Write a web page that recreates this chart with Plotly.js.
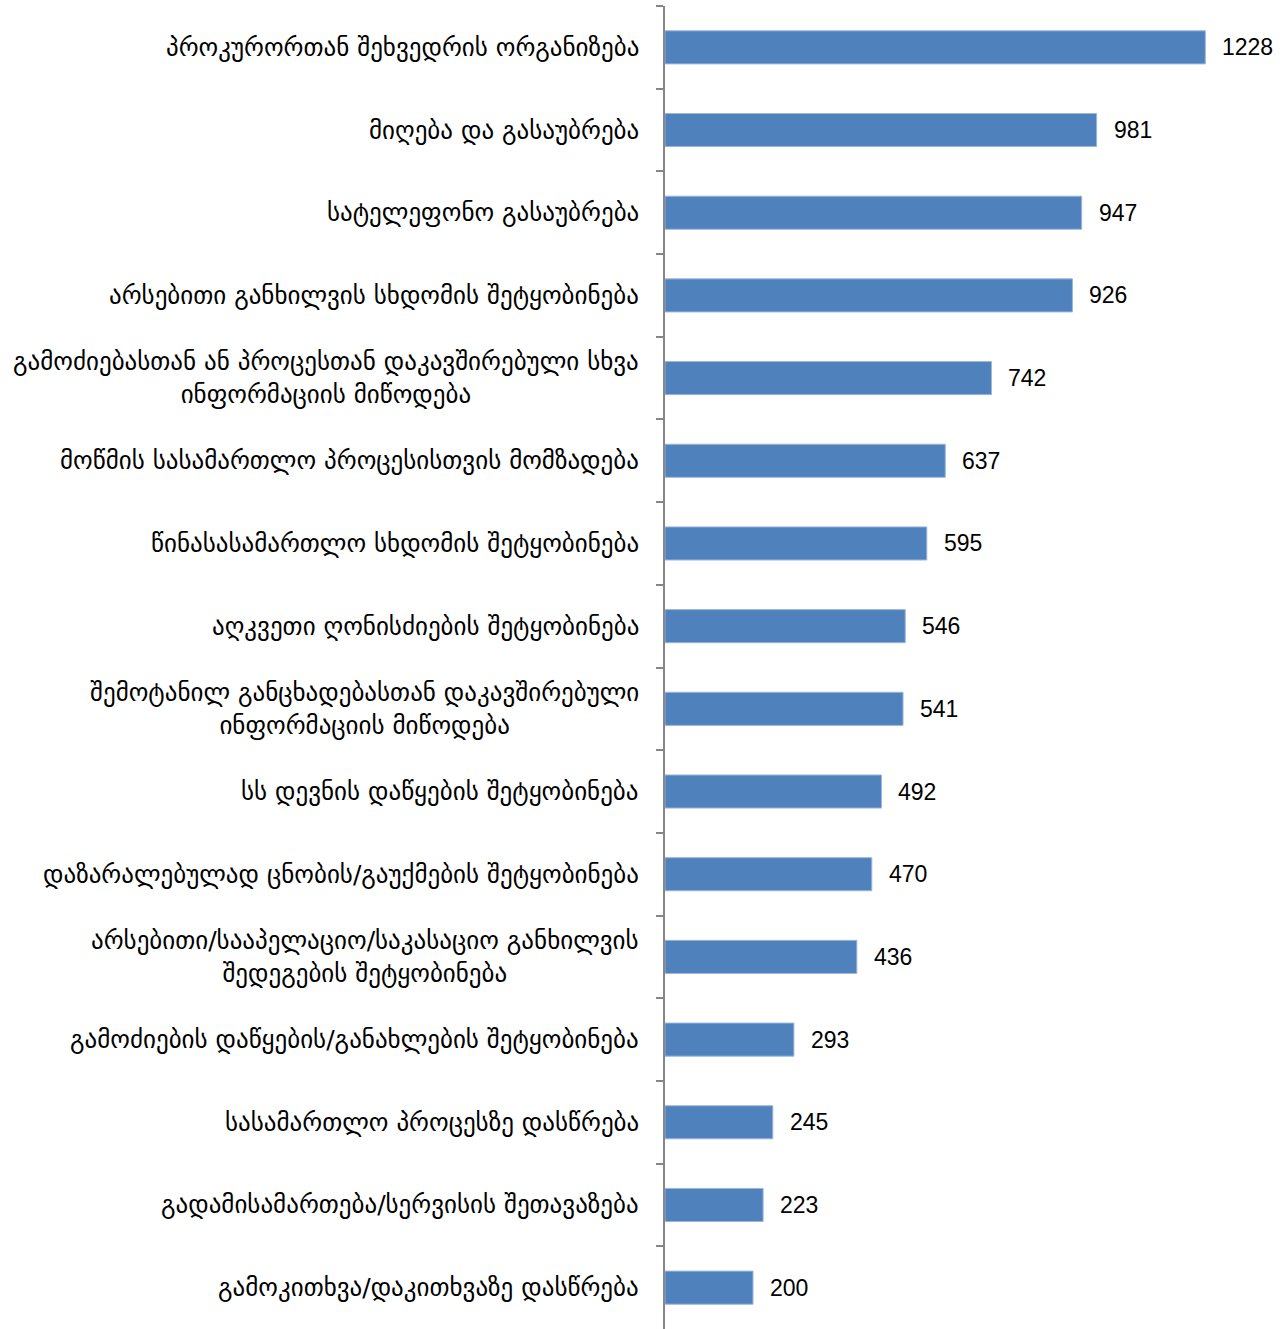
<!DOCTYPE html>
<html>
<head>
<meta charset="utf-8">
<script src="https://cdn.plot.ly/plotly-3.0.1.min.js"></script>
<style>html,body{margin:0;padding:0;background:#fff;}</style>
</head>
<body>
<div id="chart" style="width:1288px;height:1329px;"></div>
<script>
const categories = [
  "პროკურორთან შეხვედრის ორგანიზება",
  "მიღება და გასაუბრება",
  "სატელეფონო გასაუბრება",
  "არსებითი განხილვის სხდომის შეტყობინება",
  "გამოძიებასთან ან პროცესთან დაკავშირებული სხვა<br>ინფორმაციის მიწოდება",
  "მოწმის სასამართლო პროცესისთვის მომზადება",
  "წინასასამართლო სხდომის შეტყობინება",
  "აღკვეთი ღონისძიების შეტყობინება",
  "შემოტანილ განცხადებასთან დაკავშირებული<br>ინფორმაციის მიწოდება",
  "სს დევნის დაწყების შეტყობინება",
  "დაზარალებულად ცნობის/გაუქმების შეტყობინება",
  "არსებითი/სააპელაციო/საკასაციო განხილვის<br>შედეგების შეტყობინება",
  "გამოძიების დაწყების/განახლების შეტყობინება",
  "სასამართლო პროცესზე დასწრება",
  "გადამისამართება/სერვისის შეთავაზება",
  "გამოკითხვა/დაკითხვაზე დასწრება"
];
const values = [1228, 981, 947, 926, 742, 637, 595, 546, 541, 492, 470, 436, 293, 245, 223, 200];

const catLabelAnnotations = categories.map((c) => ({
  text: c, xref: 'paper', x: 0, xanchor: 'right', xshift: -24,
  yref: 'y', y: c, yanchor: 'middle', align: 'center', showarrow: false,
  font: {family: 'DejaVu Sans', size: 25, color: '#000'}
}));
const valueAnnotations = categories.map((c, i) => ({
  text: String(values[i]), xref: 'x', x: values[i], xanchor: 'left', xshift: 15,
  yref: 'y', y: c, yanchor: 'middle', showarrow: false,
  font: {family: 'Liberation Sans, Arial', size: 23, color: '#000'}
}));

const trace = {
  type: 'bar', orientation: 'h',
  x: values, y: categories,
  marker: {color: '#4F81BD', line: {color: '#9DB6DA', width: 1}},
  hoverinfo: 'x+y'
};
const layout = {
  width: 1288, height: 1329,
  margin: {l: 665, r: 7, t: 6, b: 0},
  paper_bgcolor: '#fff', plot_bgcolor: '#fff',
  bargap: 0.6,
  showlegend: false,
  xaxis: {range: [0, 1400], visible: false, showgrid: false, zeroline: false},
  yaxis: {
    type: 'category', autorange: 'reversed',
    showticklabels: false, ticks: 'outside', ticklen: 7, tickcolor: '#868686', tickwidth: 2,
    tickson: 'boundaries', showline: true, linecolor: '#868686', linewidth: 2,
    showgrid: false, zeroline: false
  },
  annotations: catLabelAnnotations.concat(valueAnnotations)
};
Plotly.newPlot('chart', [trace], layout, {displayModeBar: false, staticPlot: true});
</script>
</body>
</html>
